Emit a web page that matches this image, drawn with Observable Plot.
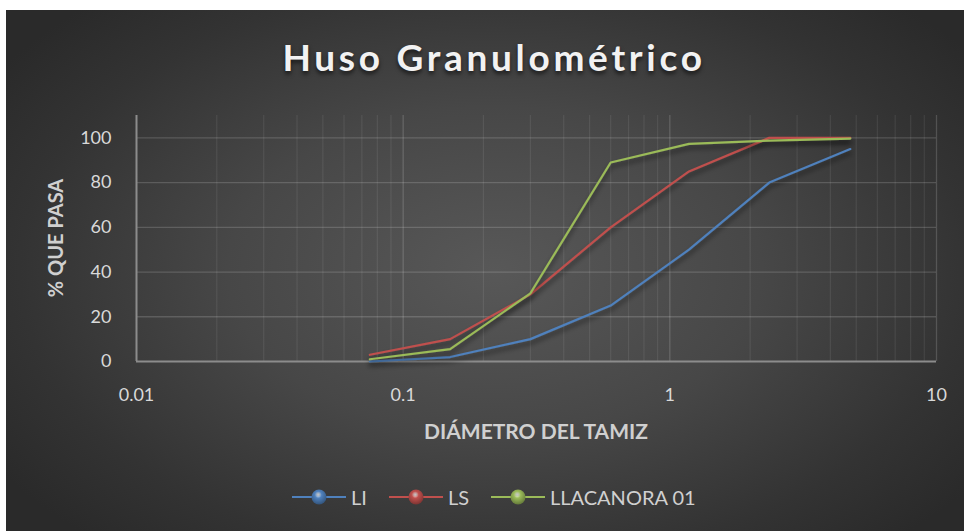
<!DOCTYPE html>
<html>
<head>
<meta charset="utf-8">
<script src="https://cdn.jsdelivr.net/npm/d3@7"></script>
<script src="https://cdn.jsdelivr.net/npm/@observablehq/plot@0.6"></script>
<style>
  html, body { margin: 0; padding: 0; background: #ffffff; }
  #chart {
    position: absolute; left: 6px; top: 10px; width: 958px; height: 521px; overflow: hidden;
    background: radial-gradient(ellipse 62% 70% at 51% 50%, #585858 0%, #474747 45%, #333333 80%, #2a2a2a 100%);
    font-family: Lato, "Open Sans", sans-serif;
  }
  #title {
    position: absolute; left: 9px; width: 958px; top: 24px; text-align: center;
    font: bold 37px Lato, sans-serif; letter-spacing: 3.7px; color: #f2f2f2;
    text-shadow: 0 3px 4px rgba(0,0,0,0.6);
  }
  #ytitle {
    position: absolute; left: 49px; top: 228px; transform: translate(-50%, -50%) rotate(-90deg);
    font: bold 20px Lato, sans-serif; color: #d0d0d0; white-space: nowrap;
  }
  #xtitle {
    position: absolute; left: 530px; top: 408px; transform: translateX(-50%);
    font: bold 21px Lato, sans-serif; color: #d0d0d0; white-space: nowrap;
  }
  #legend {
    position: absolute; top: 475px; left: 286px; display: flex; align-items: center;
    font: 20px Lato, sans-serif; color: #d0d0d0;
  }
  .item { display: flex; align-items: center; margin-right: 22px; }
  .item svg { margin-right: 5px; }
  svg.plot { position: absolute; left: 0; top: 0; }
</style>
</head>
<body>
<div id="chart">
  <div id="title">Huso Granulométrico</div>
  <div id="ytitle">% QUE PASA</div>
  <div id="xtitle">DIÁMETRO DEL TAMIZ</div>
  <div id="legend"></div>
</div>
<script>
// Data
const sieves = [0.075, 0.15, 0.3, 0.6, 1.18, 2.36, 4.75];
const li = [0, 2, 10, 25, 50, 80, 95];
const ls = [3, 10, 30, 60, 85, 100, 100];
const llacanora = [1, 5.5, 30.5, 89, 97.3, 98.8, 99.7];
const seriesNames = ["LI", "LS", "LLACANORA 01"];
const seriesColors = ["#4f81bd", "#c0504d", "#9bbb59"];
const xTicks = [0.01, 0.1, 1, 10];
const xTickLabels = ["0.01", "0.1", "1", "10"];
const yTicks = [0, 20, 40, 60, 80, 100];

const seriesValues = [li, ls, llacanora];
const rows = seriesNames.flatMap((name, i) =>
  sieves.map((s, j) => ({ series: name, x: s, y: seriesValues[i][j] })));

// grid positions (log minor ticks)
const minorX = [];
[0.01, 0.1, 1].forEach(d => { for (let k = 2; k <= 9; k++) minorX.push(+(d * k).toPrecision(3)); });
const majorX = [0.1, 1, 10];
const gridY = [20, 40, 60, 80, 100];
const xLabelOf = new Map(xTicks.map((t, i) => [t, xTickLabels[i]]));

const plot = Plot.plot({
  width: 958,
  height: 521,
  marginLeft: 130,
  marginRight: 28,
  marginTop: 105,
  marginBottom: 170,
  style: { background: "transparent", color: "#d9d9d9", fontFamily: "Lato, sans-serif", fontSize: "18px", overflow: "visible" },
  x: { type: "log", domain: [0.01, 10] },
  y: { domain: [0, 110] },
  color: { domain: seriesNames, range: seriesColors },
  marks: [
    Plot.ruleX(minorX, { stroke: "#ffffff", strokeOpacity: 0.08, strokeWidth: 1.2 }),
    Plot.ruleX(majorX, { stroke: "#ffffff", strokeOpacity: 0.16, strokeWidth: 1.3 }),
    Plot.ruleY(gridY, { stroke: "#ffffff", strokeOpacity: 0.16, strokeWidth: 1.3 }),
    Plot.ruleX([0.01], { stroke: "#8c8c8c", strokeWidth: 2 }),
    Plot.ruleY([0], { stroke: "#8c8c8c", strokeWidth: 2, x1: 0.01, x2: 10 }),
    Plot.axisX(xTicks, { tickSize: 0, tickPadding: 27, tickFormat: d => xLabelOf.get(d), fontSize: 18, fill: "#d9d9d9", label: null }),
    Plot.axisY(yTicks, { tickSize: 0, tickPadding: 25, fontSize: 18, fill: "#d9d9d9", label: null }),
    Plot.line(rows, { x: "x", y: "y", z: "series", stroke: "series", strokeWidth: 2.2, strokeLinejoin: "miter" })
  ]
});
plot.classList.add("plot");

// drop shadow for series lines
const ns = "http://www.w3.org/2000/svg";
const defs = document.createElementNS(ns, "defs");
defs.innerHTML = `<filter id="shadow" x="-10%" y="-10%" width="120%" height="130%">
  <feDropShadow dx="0" dy="4" stdDeviation="2.5" flood-color="#000" flood-opacity="0.55"/></filter>`;
plot.insertBefore(defs, plot.firstChild);
plot.querySelectorAll('g[aria-label="line"] path').forEach(p => p.setAttribute("filter", "url(#shadow)"));

document.getElementById("chart").insertBefore(plot, document.getElementById("title"));

// legend
const legend = document.getElementById("legend");
seriesNames.forEach((name, i) => {
  const item = document.createElement("div");
  item.className = "item";
  const c = seriesColors[i];
  item.innerHTML = `<svg width="54" height="20" viewBox="0 0 54 20">
    <defs><radialGradient id="g${i}" cx="45%" cy="35%" r="65%">
      <stop offset="0%" stop-color="#ffffff" stop-opacity="0.7"/>
      <stop offset="35%" stop-color="${c}"/>
      <stop offset="100%" stop-color="${d3.color(c).darker(1.2)}"/>
    </radialGradient></defs>
    <line x1="0" x2="54" y1="10" y2="10" stroke="${c}" stroke-width="2"/>
    <circle cx="27" cy="10" r="7.5" fill="url(#g${i})"/>
  </svg><span>${name}</span>`;
  legend.appendChild(item);
});
</script>
</body>
</html>
